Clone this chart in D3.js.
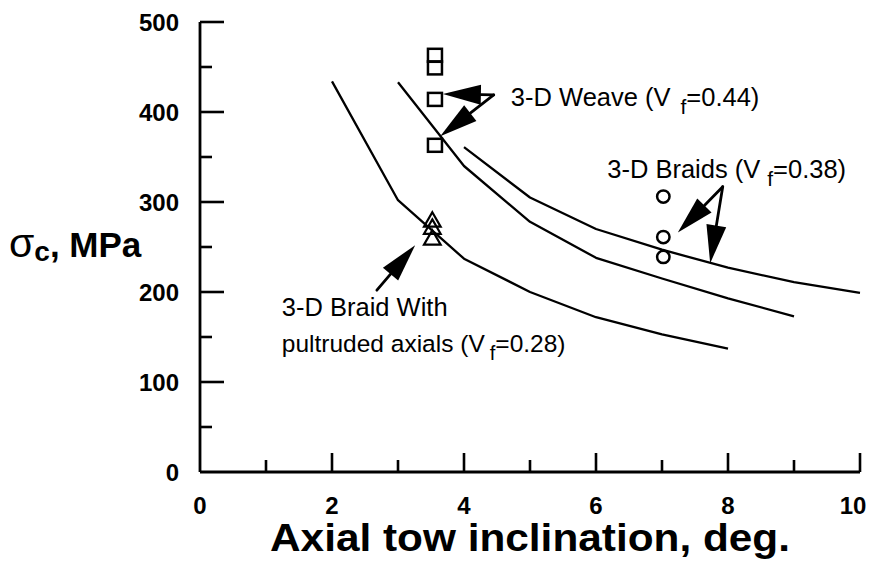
<!DOCTYPE html>
<html>
<head>
<meta charset="utf-8">
<script src="https://cdn.jsdelivr.net/npm/d3@7"></script>
<style>
  body { margin: 0; background: #fff; }
  text { font-family: "Liberation Sans", Arial, Helvetica, sans-serif; fill: #000; }
</style>
</head>
<body>
<svg id="chart" width="869" height="561"></svg>
<script>
// Axis ticks
const xTickValues = [0, 2, 4, 6, 8, 10];
const xMinorTicks = [1, 3, 5, 7, 9];
const yTickValues = [0, 100, 200, 300, 400, 500];
const yMinorTicks = [50, 150, 250, 350, 450];

// Predicted strength curves (inclination in deg., strength in MPa)
const pultrudedCurveX = [2, 3, 4, 5, 6, 7, 8];
const pultrudedCurveY = [434, 302, 237, 200, 172, 153, 137];
const weaveCurveX = [3, 4, 5, 6, 7, 8, 9];
const weaveCurveY = [433, 340, 278, 238, 215, 193, 173];
const braidCurveX = [4, 5, 6, 7, 8, 9, 10];
const braidCurveY = [361, 305, 270, 247, 227, 211, 199];

// Measured strengths
const weavePointsX = [3.56, 3.56, 3.56, 3.56];
const weavePointsY = [463, 449, 414, 363];
const braidPointsX = [7.02, 7.02, 7.02];
const braidPointsY = [306, 261, 239];
const pultrudedPointsX = [3.52, 3.52, 3.52];
const pultrudedPointsY = [278, 270, 258];

const svg = d3.select("#chart");
const x = d3.scaleLinear().domain([0, 10]).range([200, 860]);
const y = d3.scaleLinear().domain([0, 500]).range([472, 22]);

const ink = "#000";

// ----- Axes -----
const yAxis = svg.append("g");
yAxis.append("line")
  .attr("x1", x(0)).attr("x2", x(0))
  .attr("y1", y(500)).attr("y2", y(0))
  .attr("stroke", ink).attr("stroke-width", 2.8);
yAxis.selectAll(".ymaj").data(yTickValues.filter(d => d > 0)).join("line")
  .attr("class", "ymaj")
  .attr("x1", x(0)).attr("x2", x(0) + 24)
  .attr("y1", d => y(d)).attr("y2", d => y(d))
  .attr("stroke", ink).attr("stroke-width", 2.6);
yAxis.selectAll(".ymin").data(yMinorTicks).join("line")
  .attr("class", "ymin")
  .attr("x1", x(0)).attr("x2", x(0) + 12)
  .attr("y1", d => y(d)).attr("y2", d => y(d))
  .attr("stroke", ink).attr("stroke-width", 2.6);
yAxis.selectAll(".ylab").data(yTickValues).join("text")
  .attr("class", "ylab")
  .attr("x", 179).attr("y", d => y(d) + 8.5)
  .attr("text-anchor", "end")
  .attr("font-size", 24).attr("font-weight", "bold")
  .text(d => d);

const xAxis = svg.append("g");
xAxis.append("line")
  .attr("x1", x(0)).attr("x2", x(10))
  .attr("y1", y(0)).attr("y2", y(0))
  .attr("stroke", ink).attr("stroke-width", 2.8);
xAxis.selectAll(".xmaj").data(xTickValues.filter(d => d > 0)).join("line")
  .attr("class", "xmaj")
  .attr("x1", d => x(d)).attr("x2", d => x(d))
  .attr("y1", y(0)).attr("y2", y(0) - 19)
  .attr("stroke", ink).attr("stroke-width", 2.6);
xAxis.selectAll(".xmin").data(xMinorTicks).join("line")
  .attr("class", "xmin")
  .attr("x1", d => x(d)).attr("x2", d => x(d))
  .attr("y1", y(0)).attr("y2", y(0) - 12)
  .attr("stroke", ink).attr("stroke-width", 2.6);
xAxis.selectAll(".xlab").data(xTickValues).join("text")
  .attr("class", "xlab")
  .attr("x", d => Math.min(x(d), 853)).attr("y", 514)
  .attr("text-anchor", "middle")
  .attr("font-size", 24).attr("font-weight", "bold")
  .text(d => d);

// Axis titles
svg.append("text")
  .attr("x", 530).attr("y", 551)
  .attr("text-anchor", "middle")
  .attr("font-size", 38).attr("font-weight", "bold")
  .attr("textLength", 520).attr("lengthAdjust", "spacingAndGlyphs")
  .text("Axial tow inclination, deg.");

const yTitle = svg.append("text")
  .attr("x", 9).attr("y", 257)
  .attr("font-weight", "bold");
yTitle.append("tspan").attr("font-size", 41).attr("font-weight", "normal").text("σ");
yTitle.append("tspan").attr("font-size", 28).attr("dy", 4).text("c");
yTitle.append("tspan").attr("font-size", 35).attr("dy", -4).text(", MPa");

// ----- Curves -----
const line = d3.line().x(d => x(d[0])).y(d => y(d[1]));
const curves = [
  d3.zip(pultrudedCurveX, pultrudedCurveY),
  d3.zip(weaveCurveX, weaveCurveY),
  d3.zip(braidCurveX, braidCurveY)
];
svg.append("g").selectAll("path").data(curves).join("path")
  .attr("d", line)
  .attr("fill", "none").attr("stroke", ink).attr("stroke-width", 2.3)
  .attr("stroke-linejoin", "round");

// ----- Data markers -----
svg.append("g").selectAll("rect").data(d3.zip(weavePointsX, weavePointsY)).join("rect")
  .attr("x", d => x(d[0]) - 7).attr("y", d => y(d[1]) - 6.5)
  .attr("width", 14).attr("height", 13)
  .attr("fill", "none").attr("stroke", ink).attr("stroke-width", 2.5);

svg.append("g").selectAll("circle").data(d3.zip(braidPointsX, braidPointsY)).join("circle")
  .attr("cx", d => x(d[0])).attr("cy", d => y(d[1])).attr("r", 6.2)
  .attr("fill", "none").attr("stroke", ink).attr("stroke-width", 2.5);

const tri = d3.symbol().type(d3.symbolTriangle).size(120);
svg.append("g").selectAll("path").data(d3.zip(pultrudedPointsX, pultrudedPointsY)).join("path")
  .attr("transform", d => `translate(${x(d[0])},${y(d[1])})`)
  .attr("d", tri)
  .attr("fill", "none").attr("stroke", ink).attr("stroke-width", 2.2);

// ----- Annotation arrows -----
function arrow(from, to) {
  const x0 = x(from[0]), y0 = y(from[1]), x1 = x(to[0]), y1 = y(to[1]);
  const dx = x1 - x0, dy = y1 - y0, len = Math.hypot(dx, dy);
  const ux = dx / len, uy = dy / len;
  const headLen = Math.min(38, len * 0.75), halfW = 10;
  const bx = x1 - ux * headLen, by = y1 - uy * headLen;
  const g = svg.append("g");
  g.append("line").attr("x1", x0).attr("y1", y0).attr("x2", bx).attr("y2", by)
    .attr("stroke", ink).attr("stroke-width", 2.8).attr("stroke-linecap", "round");
  g.append("path")
    .attr("d", `M${x1},${y1}L${bx - uy * halfW},${by + ux * halfW}L${bx + uy * halfW},${by - ux * halfW}Z`)
    .attr("fill", ink);
}
arrow([4.45, 419], [3.68, 420]);
arrow([4.45, 419], [3.64, 373]);
arrow([7.92, 317], [7.24, 266]);
arrow([7.92, 317], [7.73, 232]);
arrow([2.68, 202], [3.26, 252]);

// ----- Annotation labels -----
function label(px, py, parts, size, gap) {
  const t = svg.append("text").attr("x", x(px)).attr("y", y(py)).attr("font-size", size);
  t.append("tspan").text(parts[0]);
  t.append("tspan").attr("font-size", size * 0.82).attr("dx", gap).attr("dy", 8).text(parts[1]);
  t.append("tspan").attr("dy", -8).text(parts[2]);
}
label(4.71, 407, ["3-D Weave (V", "f", "=0.44)"], 25.5, 10);
label(6.17, 327, ["3-D Braids (V", "f", "=0.38)"], 25.5, 7);
svg.append("text").attr("x", x(1.24)).attr("y", y(173)).attr("font-size", 25.5).text("3-D Braid With");
label(1.24, 133, ["pultruded axials (V", "f", "=0.28)"], 24.5, 5);
</script>
</body>
</html>
